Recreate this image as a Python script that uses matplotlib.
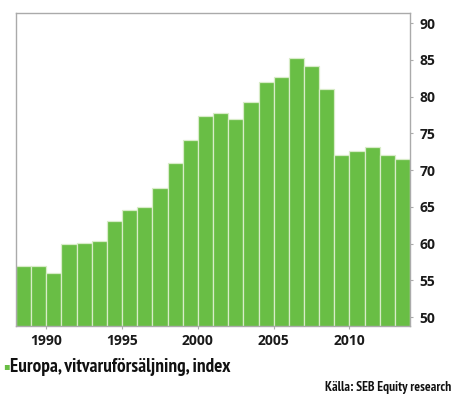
import numpy as np
import matplotlib.pyplot as plt
from matplotlib import font_manager

# Europe white goods sales index, yearly
years = np.arange(1988, 2014)
index_values = [57.0, 57.0, 56.0, 60.0, 60.1, 60.4, 63.1, 64.5, 65.0, 67.6,
                71.0, 74.1, 77.3, 77.8, 76.9, 79.3, 82.0, 82.7, 85.2, 84.2,
                81.0, 72.0, 72.6, 73.1, 72.1, 71.5]
y_ticks = [50, 55, 60, 65, 70, 75, 80, 85, 90]
x_ticks = [1990, 1995, 2000, 2005, 2010]

# pick a narrow sans if one is around
names = {f.name for f in font_manager.fontManager.ttflist}
narrow = 'DejaVu Sans'
for cand in ['PT Sans Narrow', 'Fira Sans Condensed', 'Roboto Condensed',
             'Archivo Narrow', 'Liberation Sans Narrow', 'Encode Sans Condensed',
             'Open Sans Condensed']:
    if cand in names:
        narrow = cand
        break
tick_font = 'Open Sans' if 'Open Sans' in names else 'DejaVu Sans'
plt.rcParams['font.family'] = [narrow, 'DejaVu Sans']

green = '#69be45'
frame = '#aaaaaa'

fig = plt.figure(figsize=(4.53, 3.96), dpi=100)
ax = fig.add_axes([0.0353, 0.177, 0.870, 0.789])

# bars span each full year, so the tick sits at the start of the year
ax.bar(years, index_values, width=1.0, align='edge', bottom=0,
       color=green, edgecolor='#d8ecc8', linewidth=0.9)

ax.set_xlim(1988, 2014)
ax.set_ylim(48.8, 91.3)
ax.set_xticks(x_ticks)
ax.set_xticklabels([str(t) for t in x_ticks])
ax.set_yticks(y_ticks)
ax.yaxis.tick_right()
ax.tick_params(axis='both', colors=frame, length=2.5, width=0.8,
               labelcolor='#1a1a1a', labelsize=10)
ax.tick_params(axis='x', pad=3)
ax.tick_params(axis='y', pad=4)
for lbl in ax.get_xticklabels() + ax.get_yticklabels():
    lbl.set_fontweight('bold')
    lbl.set_family(tick_font)

for s in ax.spines.values():
    s.set_color(frame)
    s.set_linewidth(1.0)

fig.text(0.006, 0.075, '\u25aa', color=green, fontsize=7, va='center',
         family='DejaVu Sans')
legend_txt = fig.text(0.022, 0.073, 'Europa, vitvaruförsäljning, index',
                      fontsize=11, fontweight='bold', va='center', color='#111111')
source_txt = fig.text(0.997, 0.006, 'Källa: SEB Equity research', fontsize=7,
                      fontweight='bold', ha='right', va='bottom', color='#111111')

# size the two captions to their widths
renderer = fig.canvas.get_renderer()
for t, width_px in [(legend_txt, 218), (source_txt, 127)]:
    w = t.get_window_extent(renderer).width
    t.set_fontsize(t.get_fontsize() * width_px / w)

fig.savefig('out.png', dpi=100)
